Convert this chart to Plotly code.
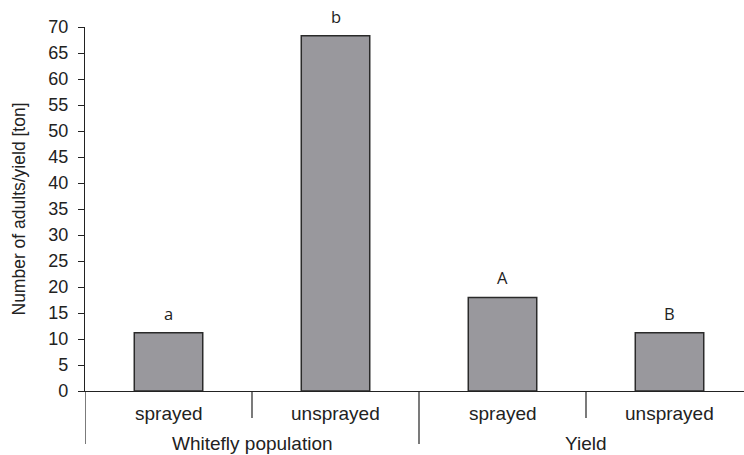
import plotly.graph_objects as go

groups = ["Whitefly population", "Yield"]
treatments = ["sprayed", "unsprayed", "sprayed", "unsprayed"]
group_of_bar = [0, 0, 1, 1]
values = [11.2, 68.3, 18.0, 11.2]
letters = ["a", "b", "A", "B"]
y_ticks = list(range(0, 75, 5))

W, H = 744, 455
ML, MR, MT, MB = 85, 0, 27, 64
plot_h = H - MT - MB
slot_px = 167.0
x_idx = list(range(len(values)))
x_max = -0.5 + (W - ML - MR) / slot_px


def py(pixel_y):
    return (H - MB - pixel_y) / plot_h


fig = go.Figure()
fig.add_trace(go.Bar(
    x=x_idx, y=values, width=0.41,
    marker=dict(color="#99989d", line=dict(color="#2a2a2a", width=1.5)),
    hoverinfo="skip", showlegend=False,
))

annotations = []
# significance letters above bars
for i, (v, t) in enumerate(zip(values, letters)):
    annotations.append(dict(x=i, y=v, xref="x", yref="y", text=t, showarrow=False,
                            yanchor="bottom", yshift=6,
                            font=dict(family="Open Sans", size=16.5, color="#222")))
# treatment labels
for i, t in enumerate(treatments):
    annotations.append(dict(x=i, y=py(401), xref="x", yref="paper", text=t, showarrow=False,
                            yanchor="top", font=dict(family="Liberation Sans", size=19, color="#222")))
# group labels
for g, name in enumerate(groups):
    members = [i for i, gg in enumerate(group_of_bar) if gg == g]
    cx = (min(members) + max(members)) / 2
    annotations.append(dict(x=cx, y=py(431), xref="x", yref="paper", text=name, showarrow=False,
                            yanchor="top", font=dict(family="Liberation Sans", size=19, color="#222")))

shapes = []
for i in range(len(values)):
    left = i - 0.5
    is_group_start = i == 0 or group_of_bar[i] != group_of_bar[i - 1]
    bottom = py(444) if is_group_start else py(418)
    shapes.append(dict(type="line", xref="x", yref="paper", x0=left, x1=left, y0=0, y1=bottom,
                       line=dict(color="#222", width=1.2)))

fig.update_layout(
    width=W, height=H,
    margin=dict(l=ML, r=MR, t=MT, b=MB, autoexpand=False),
    paper_bgcolor="white", plot_bgcolor="white",
    annotations=annotations, shapes=shapes,
    xaxis=dict(range=[-0.5, x_max], showticklabels=False, ticks="", showgrid=False,
               zeroline=False, showline=True, linecolor="#222", linewidth=1.2),
    yaxis=dict(range=[0, 70], tickvals=y_ticks, ticks="outside", ticklen=6, tickcolor="#222",
               showgrid=False, zeroline=False, showline=True, linecolor="#222", linewidth=1.2,
               tickfont=dict(family="Liberation Sans", size=18, color="#222"),
               ticklabelstandoff=6, automargin=False,
               title=dict(text="Number of adults/yield [ton]", standoff=18,
                          font=dict(family="Liberation Sans", size=17.5, color="#222"))),
)

fig.write_html(
    "out.html",
    config={"displayModeBar": False},
    post_script="document.body.style.margin='0';document.body.style.overflow='hidden';",
)
